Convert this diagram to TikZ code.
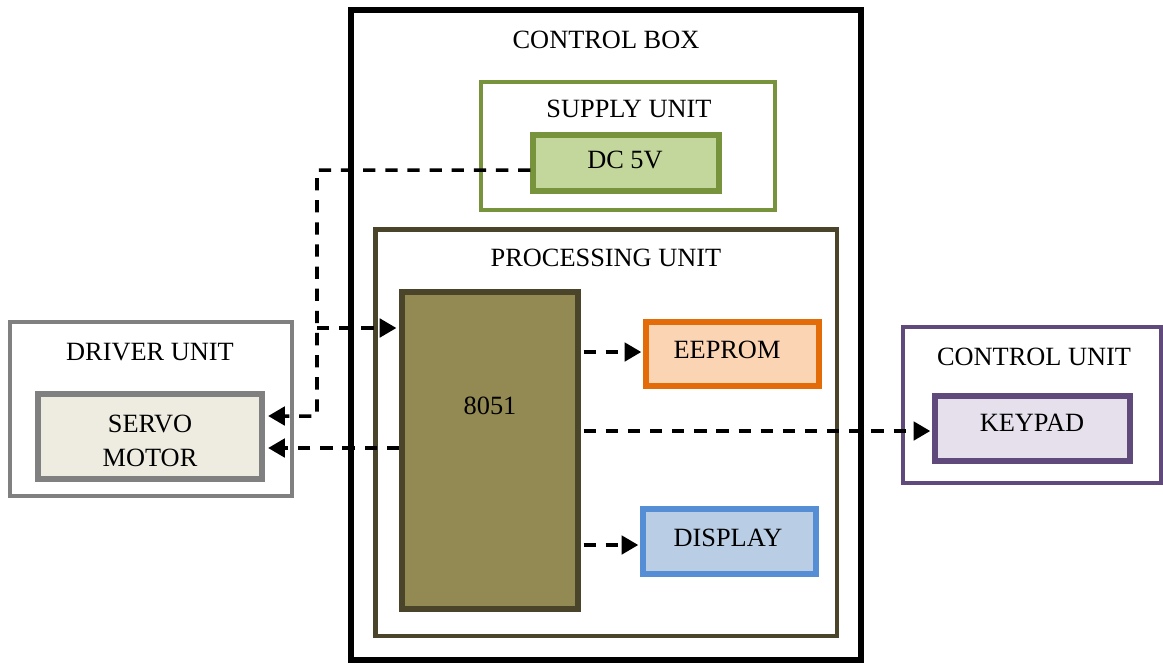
\documentclass[tikz,border=0pt]{standalone}
\usepackage{fontspec}
\setmainfont{Liberation Serif}
\usetikzlibrary{arrows.meta}
\definecolor{gstroke}{HTML}{77933C}
\definecolor{gfill}{HTML}{C3D69B}
\definecolor{pstroke}{HTML}{4A452A}
\definecolor{mfill}{HTML}{938953}
\definecolor{ostroke}{HTML}{E36C09}
\definecolor{ofill}{HTML}{FBD4B4}
\definecolor{bstroke}{HTML}{558ED5}
\definecolor{bfill}{HTML}{B9CDE5}
\definecolor{grstroke}{HTML}{808080}
\definecolor{grfill}{HTML}{EEECE1}
\definecolor{vstroke}{HTML}{604A7B}
\definecolor{vfill}{HTML}{E5E0EC}
\tikzset{
  blk/.style={draw, rectangle, inner sep=0pt, line width=3pt},
  grp/.style={draw, rectangle, inner sep=0pt, line width=2.8pt},
  lbl/.style={inner sep=0pt, font=\fontsize{15pt}{18pt}\selectfont, align=center},
  dsh/.style={line width=2pt, dash pattern=on 7pt off 5.6pt},
  arr/.style={-{Triangle[length=9.5pt,width=10.5pt]}}
}
\begin{document}
\begin{tikzpicture}[x=0.02cm,y=-0.02cm]
\useasboundingbox (0,0) rectangle (1163,664);
% boxes
\node[blk, draw=black, minimum width=10.2cm, minimum height=13cm] (ctrlbox) at (606,335) {};
\node[grp, draw=gstroke, minimum width=5.88cm, minimum height=2.56cm] (supply) at (628,146) {};
\node[blk, draw=gstroke, fill=gfill, minimum width=3.72cm, minimum height=1.12cm] (dc) at (626,163) {};
\node[grp, draw=pstroke, minimum width=9.24cm, minimum height=8.14cm] (proc) at (606,432.5) {};
\node[blk, line width=3.4pt, draw=pstroke, fill=mfill, minimum width=3.52cm, minimum height=6.34cm] (mcu) at (490,450.5) {};
\node[blk, draw=ostroke, fill=ofill, minimum width=3.46cm, minimum height=1.28cm] (eeprom) at (732.5,354) {};
\node[blk, draw=bstroke, fill=bfill, minimum width=3.46cm, minimum height=1.30cm] (display) at (729.5,541.5) {};
\node[grp, draw=grstroke, minimum width=5.64cm, minimum height=3.48cm] (driver) at (151,409) {};
\node[blk, draw=grstroke, fill=grfill, minimum width=4.48cm, minimum height=1.70cm] (servo) at (150,436.5) {};
\node[grp, draw=vstroke, minimum width=5.16cm, minimum height=3.12cm] (ctrlunit) at (1032,405) {};
\node[blk, draw=vstroke, fill=vfill, minimum width=3.90cm, minimum height=1.30cm] (keypad) at (1032.5,428.5) {};
% labels
\node[lbl] (ctrlboxlbl) at (606,40) {CONTROL BOX};
\node[lbl] (supplylbl) at (629,109) {SUPPLY UNIT};
\node[lbl] (dclbl) at (625,160) {DC 5V};
\node[lbl] (proclbl) at (606,258) {PROCESSING UNIT};
\node[lbl] (mculbl) at (490,406) {8051};
\node[lbl] (eepromlbl) at (727,350) {EEPROM};
\node[lbl] (displaylbl) at (728,538) {DISPLAY};
\node[lbl] (driverlbl) at (150,352) {DRIVER UNIT};
\node[lbl] (servolbl1) at (150,424) {SERVO};
\node[lbl] (servolbl2) at (150,458) {MOTOR};
\node[lbl] (ctrlunitlbl) at (1034,357) {CONTROL UNIT};
\node[lbl] (keypadlbl) at (1032,423) {KEYPAD};
% connectors
\coordinate (jtop) at (317,170);
\coordinate (jmid) at (317,328);
\coordinate (jbot) at (317,416);
\draw[dsh, arr] ([yshift=-4pt]dc.west) -- (jtop) -- (jbot) -- ([xshift=2pt]servo.east |- jbot);
\draw[dsh, arr, shorten >=1.5pt] (jmid) -- (mcu.west |- jmid);
\draw[dsh, arr] (mcu.west |- 0,448) -- ([xshift=2pt]servo.east |- 0,448);
\draw[dsh, arr, shorten >=1.2pt] ([xshift=1.5pt]mcu.east |- 0,352) -- (eeprom.west |- 0,352);
\draw[dsh, arr, shorten >=1.2pt] ([xshift=1.5pt]mcu.east |- 0,431) -- (keypad.west |- 0,431);
\draw[dsh, arr, shorten >=1.2pt] ([xshift=1.5pt]mcu.east |- 0,545) -- (display.west |- 0,545);
\end{tikzpicture}
\end{document}
